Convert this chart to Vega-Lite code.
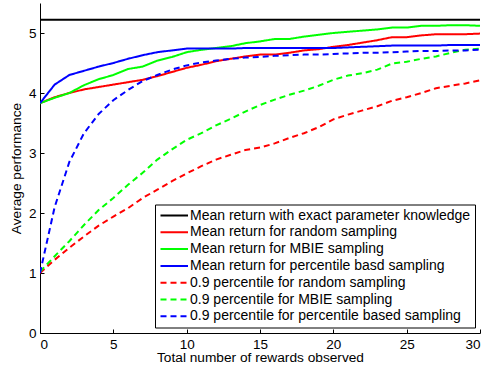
{
  "$schema": "https://vega.github.io/schema/vega-lite/v6.json",
  "width": 440,
  "height": 330,
  "autosize": {"type": "none"},
  "padding": {"left": 40, "top": 3, "right": 11, "bottom": 34},
  "background": "white",
  "config": {
    "view": {"stroke": null},
    "font": "Liberation Sans",
    "axis": {
      "grid": false,
      "domainColor": "black",
      "tickColor": "black",
      "labelColor": "black",
      "titleColor": "black",
      "labelFontSize": 13.5,
      "titleFontSize": 13.7,
      "titleFontWeight": "normal",
      "labelFont": "Liberation Sans",
      "titleFont": "Liberation Sans",
      "tickSize": -4,
      "labelPadding": 8
    },
    "legend": {
      "labelFont": "Liberation Sans",
      "labelFontSize": 14,
      "labelColor": "black",
      "labelLimit": 500,
      "symbolType": "M-1,0H4",
      "symbolStrokeWidth": 2,
      "symbolSize": 121,
      "labelOffset": 17,
      "strokeColor": "black",
      "padding": 4,
      "rowPadding": 2.8,
      "fillColor": "white"
    }
  },
  "data": {
    "values": [
      {"x": 0, "v": 5.22, "s": "Mean return with exact parameter knowledge"},
      {"x": 30, "v": 5.22, "s": "Mean return with exact parameter knowledge"},

      {"x": 0, "v": 3.83, "s": "Mean return for random sampling"},
      {"x": 1, "v": 3.93, "s": "Mean return for random sampling"},
      {"x": 2, "v": 4.0, "s": "Mean return for random sampling"},
      {"x": 3, "v": 4.06, "s": "Mean return for random sampling"},
      {"x": 4, "v": 4.1, "s": "Mean return for random sampling"},
      {"x": 5, "v": 4.14, "s": "Mean return for random sampling"},
      {"x": 6, "v": 4.18, "s": "Mean return for random sampling"},
      {"x": 7, "v": 4.22, "s": "Mean return for random sampling"},
      {"x": 8, "v": 4.28, "s": "Mean return for random sampling"},
      {"x": 9, "v": 4.35, "s": "Mean return for random sampling"},
      {"x": 10, "v": 4.42, "s": "Mean return for random sampling"},
      {"x": 11, "v": 4.47, "s": "Mean return for random sampling"},
      {"x": 12, "v": 4.53, "s": "Mean return for random sampling"},
      {"x": 13, "v": 4.57, "s": "Mean return for random sampling"},
      {"x": 14, "v": 4.61, "s": "Mean return for random sampling"},
      {"x": 15, "v": 4.64, "s": "Mean return for random sampling"},
      {"x": 16, "v": 4.64, "s": "Mean return for random sampling"},
      {"x": 17, "v": 4.67, "s": "Mean return for random sampling"},
      {"x": 18, "v": 4.71, "s": "Mean return for random sampling"},
      {"x": 19, "v": 4.73, "s": "Mean return for random sampling"},
      {"x": 20, "v": 4.77, "s": "Mean return for random sampling"},
      {"x": 21, "v": 4.8, "s": "Mean return for random sampling"},
      {"x": 22, "v": 4.84, "s": "Mean return for random sampling"},
      {"x": 23, "v": 4.88, "s": "Mean return for random sampling"},
      {"x": 24, "v": 4.93, "s": "Mean return for random sampling"},
      {"x": 25, "v": 4.93, "s": "Mean return for random sampling"},
      {"x": 26, "v": 4.96, "s": "Mean return for random sampling"},
      {"x": 27, "v": 4.98, "s": "Mean return for random sampling"},
      {"x": 28, "v": 4.98, "s": "Mean return for random sampling"},
      {"x": 29, "v": 4.98, "s": "Mean return for random sampling"},
      {"x": 30, "v": 4.99, "s": "Mean return for random sampling"},

      {"x": 0, "v": 3.83, "s": "Mean return for MBIE sampling"},
      {"x": 1, "v": 3.92, "s": "Mean return for MBIE sampling"},
      {"x": 2, "v": 4.0, "s": "Mean return for MBIE sampling"},
      {"x": 3, "v": 4.13, "s": "Mean return for MBIE sampling"},
      {"x": 4, "v": 4.23, "s": "Mean return for MBIE sampling"},
      {"x": 5, "v": 4.3, "s": "Mean return for MBIE sampling"},
      {"x": 6, "v": 4.4, "s": "Mean return for MBIE sampling"},
      {"x": 7, "v": 4.44, "s": "Mean return for MBIE sampling"},
      {"x": 8, "v": 4.54, "s": "Mean return for MBIE sampling"},
      {"x": 9, "v": 4.6, "s": "Mean return for MBIE sampling"},
      {"x": 10, "v": 4.68, "s": "Mean return for MBIE sampling"},
      {"x": 11, "v": 4.72, "s": "Mean return for MBIE sampling"},
      {"x": 12, "v": 4.75, "s": "Mean return for MBIE sampling"},
      {"x": 13, "v": 4.78, "s": "Mean return for MBIE sampling"},
      {"x": 14, "v": 4.83, "s": "Mean return for MBIE sampling"},
      {"x": 15, "v": 4.86, "s": "Mean return for MBIE sampling"},
      {"x": 16, "v": 4.9, "s": "Mean return for MBIE sampling"},
      {"x": 17, "v": 4.9, "s": "Mean return for MBIE sampling"},
      {"x": 18, "v": 4.94, "s": "Mean return for MBIE sampling"},
      {"x": 19, "v": 4.97, "s": "Mean return for MBIE sampling"},
      {"x": 20, "v": 5.0, "s": "Mean return for MBIE sampling"},
      {"x": 21, "v": 5.02, "s": "Mean return for MBIE sampling"},
      {"x": 22, "v": 5.04, "s": "Mean return for MBIE sampling"},
      {"x": 23, "v": 5.06, "s": "Mean return for MBIE sampling"},
      {"x": 24, "v": 5.09, "s": "Mean return for MBIE sampling"},
      {"x": 25, "v": 5.09, "s": "Mean return for MBIE sampling"},
      {"x": 26, "v": 5.12, "s": "Mean return for MBIE sampling"},
      {"x": 27, "v": 5.12, "s": "Mean return for MBIE sampling"},
      {"x": 28, "v": 5.13, "s": "Mean return for MBIE sampling"},
      {"x": 29, "v": 5.13, "s": "Mean return for MBIE sampling"},
      {"x": 30, "v": 5.12, "s": "Mean return for MBIE sampling"},

      {"x": 0, "v": 3.83, "s": "Mean return for percentile basd sampling"},
      {"x": 1, "v": 4.14, "s": "Mean return for percentile basd sampling"},
      {"x": 2, "v": 4.3, "s": "Mean return for percentile basd sampling"},
      {"x": 3, "v": 4.37, "s": "Mean return for percentile basd sampling"},
      {"x": 4, "v": 4.44, "s": "Mean return for percentile basd sampling"},
      {"x": 5, "v": 4.5, "s": "Mean return for percentile basd sampling"},
      {"x": 6, "v": 4.57, "s": "Mean return for percentile basd sampling"},
      {"x": 7, "v": 4.63, "s": "Mean return for percentile basd sampling"},
      {"x": 8, "v": 4.68, "s": "Mean return for percentile basd sampling"},
      {"x": 9, "v": 4.71, "s": "Mean return for percentile basd sampling"},
      {"x": 10, "v": 4.74, "s": "Mean return for percentile basd sampling"},
      {"x": 11, "v": 4.74, "s": "Mean return for percentile basd sampling"},
      {"x": 12, "v": 4.74, "s": "Mean return for percentile basd sampling"},
      {"x": 13, "v": 4.74, "s": "Mean return for percentile basd sampling"},
      {"x": 14, "v": 4.75, "s": "Mean return for percentile basd sampling"},
      {"x": 15, "v": 4.75, "s": "Mean return for percentile basd sampling"},
      {"x": 16, "v": 4.75, "s": "Mean return for percentile basd sampling"},
      {"x": 17, "v": 4.75, "s": "Mean return for percentile basd sampling"},
      {"x": 18, "v": 4.75, "s": "Mean return for percentile basd sampling"},
      {"x": 19, "v": 4.75, "s": "Mean return for percentile basd sampling"},
      {"x": 20, "v": 4.75, "s": "Mean return for percentile basd sampling"},
      {"x": 21, "v": 4.76, "s": "Mean return for percentile basd sampling"},
      {"x": 22, "v": 4.77, "s": "Mean return for percentile basd sampling"},
      {"x": 23, "v": 4.78, "s": "Mean return for percentile basd sampling"},
      {"x": 24, "v": 4.79, "s": "Mean return for percentile basd sampling"},
      {"x": 25, "v": 4.79, "s": "Mean return for percentile basd sampling"},
      {"x": 26, "v": 4.79, "s": "Mean return for percentile basd sampling"},
      {"x": 27, "v": 4.79, "s": "Mean return for percentile basd sampling"},
      {"x": 28, "v": 4.8, "s": "Mean return for percentile basd sampling"},
      {"x": 29, "v": 4.8, "s": "Mean return for percentile basd sampling"},
      {"x": 30, "v": 4.8, "s": "Mean return for percentile basd sampling"},

      {"x": 0, "v": 1.0, "s": "0.9 percentile for random sampling"},
      {"x": 1, "v": 1.22, "s": "0.9 percentile for random sampling"},
      {"x": 2, "v": 1.42, "s": "0.9 percentile for random sampling"},
      {"x": 3, "v": 1.61, "s": "0.9 percentile for random sampling"},
      {"x": 4, "v": 1.79, "s": "0.9 percentile for random sampling"},
      {"x": 5, "v": 1.94, "s": "0.9 percentile for random sampling"},
      {"x": 6, "v": 2.08, "s": "0.9 percentile for random sampling"},
      {"x": 7, "v": 2.25, "s": "0.9 percentile for random sampling"},
      {"x": 8, "v": 2.39, "s": "0.9 percentile for random sampling"},
      {"x": 9, "v": 2.53, "s": "0.9 percentile for random sampling"},
      {"x": 10, "v": 2.66, "s": "0.9 percentile for random sampling"},
      {"x": 11, "v": 2.78, "s": "0.9 percentile for random sampling"},
      {"x": 12, "v": 2.89, "s": "0.9 percentile for random sampling"},
      {"x": 13, "v": 2.97, "s": "0.9 percentile for random sampling"},
      {"x": 14, "v": 3.05, "s": "0.9 percentile for random sampling"},
      {"x": 15, "v": 3.09, "s": "0.9 percentile for random sampling"},
      {"x": 16, "v": 3.16, "s": "0.9 percentile for random sampling"},
      {"x": 17, "v": 3.25, "s": "0.9 percentile for random sampling"},
      {"x": 18, "v": 3.33, "s": "0.9 percentile for random sampling"},
      {"x": 19, "v": 3.43, "s": "0.9 percentile for random sampling"},
      {"x": 20, "v": 3.56, "s": "0.9 percentile for random sampling"},
      {"x": 21, "v": 3.64, "s": "0.9 percentile for random sampling"},
      {"x": 22, "v": 3.71, "s": "0.9 percentile for random sampling"},
      {"x": 23, "v": 3.78, "s": "0.9 percentile for random sampling"},
      {"x": 24, "v": 3.87, "s": "0.9 percentile for random sampling"},
      {"x": 25, "v": 3.93, "s": "0.9 percentile for random sampling"},
      {"x": 26, "v": 4.0, "s": "0.9 percentile for random sampling"},
      {"x": 27, "v": 4.08, "s": "0.9 percentile for random sampling"},
      {"x": 28, "v": 4.12, "s": "0.9 percentile for random sampling"},
      {"x": 29, "v": 4.16, "s": "0.9 percentile for random sampling"},
      {"x": 30, "v": 4.21, "s": "0.9 percentile for random sampling"},

      {"x": 0, "v": 1.02, "s": "0.9 percentile for MBIE sampling"},
      {"x": 1, "v": 1.28, "s": "0.9 percentile for MBIE sampling"},
      {"x": 2, "v": 1.53, "s": "0.9 percentile for MBIE sampling"},
      {"x": 3, "v": 1.8, "s": "0.9 percentile for MBIE sampling"},
      {"x": 4, "v": 2.05, "s": "0.9 percentile for MBIE sampling"},
      {"x": 5, "v": 2.25, "s": "0.9 percentile for MBIE sampling"},
      {"x": 6, "v": 2.47, "s": "0.9 percentile for MBIE sampling"},
      {"x": 7, "v": 2.67, "s": "0.9 percentile for MBIE sampling"},
      {"x": 8, "v": 2.89, "s": "0.9 percentile for MBIE sampling"},
      {"x": 9, "v": 3.06, "s": "0.9 percentile for MBIE sampling"},
      {"x": 10, "v": 3.22, "s": "0.9 percentile for MBIE sampling"},
      {"x": 11, "v": 3.33, "s": "0.9 percentile for MBIE sampling"},
      {"x": 12, "v": 3.46, "s": "0.9 percentile for MBIE sampling"},
      {"x": 13, "v": 3.57, "s": "0.9 percentile for MBIE sampling"},
      {"x": 14, "v": 3.69, "s": "0.9 percentile for MBIE sampling"},
      {"x": 15, "v": 3.8, "s": "0.9 percentile for MBIE sampling"},
      {"x": 16, "v": 3.89, "s": "0.9 percentile for MBIE sampling"},
      {"x": 17, "v": 3.97, "s": "0.9 percentile for MBIE sampling"},
      {"x": 18, "v": 4.04, "s": "0.9 percentile for MBIE sampling"},
      {"x": 19, "v": 4.12, "s": "0.9 percentile for MBIE sampling"},
      {"x": 20, "v": 4.22, "s": "0.9 percentile for MBIE sampling"},
      {"x": 21, "v": 4.29, "s": "0.9 percentile for MBIE sampling"},
      {"x": 22, "v": 4.33, "s": "0.9 percentile for MBIE sampling"},
      {"x": 23, "v": 4.39, "s": "0.9 percentile for MBIE sampling"},
      {"x": 24, "v": 4.49, "s": "0.9 percentile for MBIE sampling"},
      {"x": 25, "v": 4.52, "s": "0.9 percentile for MBIE sampling"},
      {"x": 26, "v": 4.57, "s": "0.9 percentile for MBIE sampling"},
      {"x": 27, "v": 4.61, "s": "0.9 percentile for MBIE sampling"},
      {"x": 28, "v": 4.67, "s": "0.9 percentile for MBIE sampling"},
      {"x": 29, "v": 4.72, "s": "0.9 percentile for MBIE sampling"},
      {"x": 30, "v": 4.74, "s": "0.9 percentile for MBIE sampling"},

      {"x": 0, "v": 1.0, "s": "0.9 percentile for percentile based sampling"},
      {"x": 1, "v": 2.1, "s": "0.9 percentile for percentile based sampling"},
      {"x": 2, "v": 2.85, "s": "0.9 percentile for percentile based sampling"},
      {"x": 3, "v": 3.33, "s": "0.9 percentile for percentile based sampling"},
      {"x": 4, "v": 3.65, "s": "0.9 percentile for percentile based sampling"},
      {"x": 5, "v": 3.88, "s": "0.9 percentile for percentile based sampling"},
      {"x": 6, "v": 4.05, "s": "0.9 percentile for percentile based sampling"},
      {"x": 7, "v": 4.2, "s": "0.9 percentile for percentile based sampling"},
      {"x": 8, "v": 4.3, "s": "0.9 percentile for percentile based sampling"},
      {"x": 9, "v": 4.39, "s": "0.9 percentile for percentile based sampling"},
      {"x": 10, "v": 4.46, "s": "0.9 percentile for percentile based sampling"},
      {"x": 11, "v": 4.51, "s": "0.9 percentile for percentile based sampling"},
      {"x": 12, "v": 4.54, "s": "0.9 percentile for percentile based sampling"},
      {"x": 13, "v": 4.57, "s": "0.9 percentile for percentile based sampling"},
      {"x": 14, "v": 4.59, "s": "0.9 percentile for percentile based sampling"},
      {"x": 15, "v": 4.6, "s": "0.9 percentile for percentile based sampling"},
      {"x": 16, "v": 4.62, "s": "0.9 percentile for percentile based sampling"},
      {"x": 17, "v": 4.63, "s": "0.9 percentile for percentile based sampling"},
      {"x": 18, "v": 4.64, "s": "0.9 percentile for percentile based sampling"},
      {"x": 19, "v": 4.64, "s": "0.9 percentile for percentile based sampling"},
      {"x": 20, "v": 4.65, "s": "0.9 percentile for percentile based sampling"},
      {"x": 21, "v": 4.66, "s": "0.9 percentile for percentile based sampling"},
      {"x": 22, "v": 4.67, "s": "0.9 percentile for percentile based sampling"},
      {"x": 23, "v": 4.67, "s": "0.9 percentile for percentile based sampling"},
      {"x": 24, "v": 4.68, "s": "0.9 percentile for percentile based sampling"},
      {"x": 25, "v": 4.69, "s": "0.9 percentile for percentile based sampling"},
      {"x": 26, "v": 4.7, "s": "0.9 percentile for percentile based sampling"},
      {"x": 27, "v": 4.7, "s": "0.9 percentile for percentile based sampling"},
      {"x": 28, "v": 4.71, "s": "0.9 percentile for percentile based sampling"},
      {"x": 29, "v": 4.71, "s": "0.9 percentile for percentile based sampling"},
      {"x": 30, "v": 4.72, "s": "0.9 percentile for percentile based sampling"}
    ]
  },
  "mark": {"type": "line", "strokeWidth": 2, "clip": true},
  "encoding": {
    "x": {
      "field": "x",
      "type": "quantitative",
      "title": "Total number of rewards observed",
      "scale": {"domain": [0, 30], "nice": false},
      "axis": {"values": [0, 5, 10, 15, 20, 25, 30], "titlePadding": 0}
    },
    "y": {
      "field": "v",
      "type": "quantitative",
      "title": "Average performance",
      "scale": {"domain": [0, 5.5], "nice": false},
      "axis": {"values": [0, 1, 2, 3, 4, 5], "titlePadding": 5}
    },
    "color": {
      "field": "s",
      "type": "nominal",
      "title": null,
      "scale": {
        "domain": [
          "Mean return with exact parameter knowledge",
          "Mean return for random sampling",
          "Mean return for MBIE sampling",
          "Mean return for percentile basd sampling",
          "0.9 percentile for random sampling",
          "0.9 percentile for MBIE sampling",
          "0.9 percentile for percentile based sampling"
        ],
        "range": ["#000000", "#ff0000", "#00ff00", "#0000ff", "#ff0000", "#00ff00", "#0000ff"]
      },
      "legend": {"orient": "none", "legendX": 115, "legendY": 201.5}
    },
    "strokeDash": {
      "field": "s",
      "type": "nominal",
      "title": null,
      "scale": {
        "domain": [
          "Mean return with exact parameter knowledge",
          "Mean return for random sampling",
          "Mean return for MBIE sampling",
          "Mean return for percentile basd sampling",
          "0.9 percentile for random sampling",
          "0.9 percentile for MBIE sampling",
          "0.9 percentile for percentile based sampling"
        ],
        "range": [[1, 0], [1, 0], [1, 0], [1, 0], [6, 4], [6, 4], [6, 4]]
      },
      "legend": {"orient": "none", "legendX": 115, "legendY": 201.5}
    }
  }
}
